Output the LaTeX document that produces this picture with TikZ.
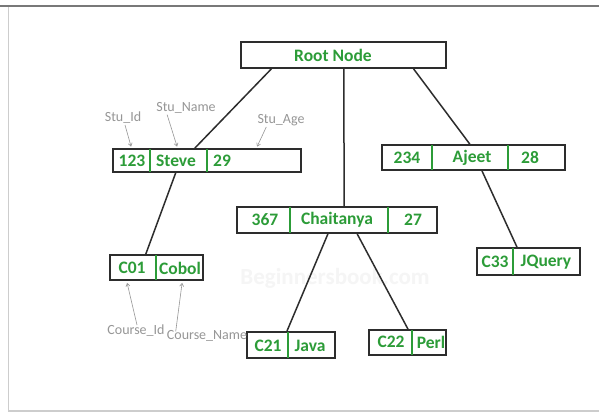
\documentclass[tikz,border=0pt]{standalone}
\usepackage{fontspec}
\setmainfont{Carlito}
\usetikzlibrary{calc,arrows.meta}

\definecolor{keygreen}{RGB}{44,156,56}
\definecolor{boxline}{RGB}{45,45,45}
\definecolor{notegray}{RGB}{150,150,150}
\definecolor{framedark}{RGB}{120,120,120}
\definecolor{framelight}{RGB}{205,205,205}

\tikzset{
  recbox/.style={draw=boxline, line width=1.8pt, fill=white, inner sep=0pt},
  field/.style={text=keygreen, inner sep=0pt, font=\bfseries\fontsize{17.5}{19}\selectfont},
  divider/.style={draw=keygreen, line width=1.5pt, shorten >=0.9pt, shorten <=0.9pt},
  branch/.style={draw=boxline, line width=1.5pt},
  note/.style={text=notegray, inner sep=1pt, font=\fontsize{14}{15}\selectfont},
  pointer/.style={draw=notegray, line width=0.6pt, -{Straight Barb[length=3pt,width=4pt]}},
  watermark/.style={text=black!4, inner sep=0pt, font=\bfseries\fontsize{23}{25}\selectfont}
}

\begin{document}
\begin{tikzpicture}[x=1pt, y=-1pt]
  \useasboundingbox (0,0) rectangle (599,412);
  \fill[white] (0,0) rectangle (599,412);

  % page frame
  \draw[framelight, line width=1.5pt] (8.5,6) -- (8.5,411) -- (599,411);
  \draw[framedark, line width=1.5pt] (0,6) -- (599,6);

  % faint site mark behind the tree
  \node[watermark] (mark) at (335,278) {Beginnersbook.com};

  % record boxes
  \node[recbox, minimum width=205pt, minimum height=26pt] (root)  at (343.5,55)  {};
  \node[recbox, minimum width=188pt, minimum height=23pt] (steve) at (207,160.5) {};
  \node[recbox, minimum width=183pt, minimum height=25pt] (ajeet) at (473.5,157.5) {};
  \node[recbox, minimum width=200pt, minimum height=26pt] (chai)  at (337,220)   {};
  \node[recbox, minimum width=93pt,  minimum height=25pt] (cobol) at (156.5,267.5) {};
  \node[recbox, minimum width=88pt,  minimum height=26pt] (java)  at (291,345)   {};
  \node[recbox, minimum width=77pt,  minimum height=25pt] (perl)  at (407.5,342.5) {};
  \node[recbox, minimum width=103pt, minimum height=27pt] (jquery) at (528.5,261.5) {};

  % field separators
  \draw[divider] ($(steve.north west)+(38,0)$) -- ($(steve.south west)+(38,0)$);
  \draw[divider] ($(steve.north west)+(95,0)$) -- ($(steve.south west)+(95,0)$);
  \draw[divider] ($(ajeet.north west)+(51,0)$) -- ($(ajeet.south west)+(51,0)$);
  \draw[divider] ($(ajeet.north west)+(127,0)$) -- ($(ajeet.south west)+(127,0)$);
  \draw[divider] ($(chai.north west)+(54,0)$) -- ($(chai.south west)+(54,0)$);
  \draw[divider] ($(chai.north west)+(152,0)$) -- ($(chai.south west)+(152,0)$);
  \draw[divider] ($(cobol.north west)+(47,0)$) -- ($(cobol.south west)+(47,0)$);
  \draw[divider] ($(java.north west)+(42,0)$) -- ($(java.south west)+(42,0)$);
  \draw[divider] ($(perl.north west)+(44,0)$) -- ($(perl.south west)+(44,0)$);
  \draw[divider] ($(jquery.north west)+(37,0)$) -- ($(jquery.south west)+(37,0)$);

  % field values
  \node[field] (rootlabel) at (333,55) {Root Node};
  \node[field] (steve-id)   at (132,161) {123};
  \node[field] (steve-name) at (176,161) {Steve};
  \node[field] (steve-age)  at (222,161) {29};
  \node[field] (ajeet-id)   at (407,158) {234};
  \node[field] (ajeet-name) at (472,158) {Ajeet};
  \node[field] (ajeet-age)  at (530,158) {28};
  \node[field] (chai-id)    at (265,220) {367};
  \node[field] (chai-name)  at (337,220) {Chaitanya};
  \node[field] (chai-age)   at (413,220) {27};
  \node[field] (cobol-id)   at (132,268) {C01};
  \node[field] (cobol-name) at (180,268) {Cobol};
  \node[field] (java-id)    at (268,346) {C21};
  \node[field] (java-name)  at (310,346) {Java};
  \node[field] (perl-id)    at (391,342) {C22};
  \node[field] (perl-name)  at (431,342) {Perl};
  \node[field] (jquery-id)  at (495,262) {C33};
  \node[field] (jquery-name) at (546,262) {JQuery};

  % tree branches
  \draw[branch] ($(root.south west)!0.151!(root.south east)$) -- ($(steve.north west)!0.436!(steve.north east)$);
  \draw[branch] ($(root.south west)!0.502!(root.south east)$) -- ($(chai.north west)!0.535!(chai.north east)$);
  \draw[branch] ($(root.south west)!0.839!(root.south east)$) -- ($(ajeet.north west)!0.48!(ajeet.north east)$);
  \draw[branch] ($(steve.south west)!0.335!(steve.south east)$) -- ($(cobol.north west)!0.387!(cobol.north east)$);
  \draw[branch] ($(chai.south west)!0.455!(chai.south east)$) -- ($(java.north west)!0.455!(java.north east)$);
  \draw[branch] ($(chai.south west)!0.6!(chai.south east)$) -- ($(perl.north west)!0.506!(perl.north east)$);
  \draw[branch] ($(ajeet.south west)!0.546!(ajeet.south east)$) -- ($(jquery.north west)!0.39!(jquery.north east)$);

  % column annotations
  \node[note] (stu-id)   at (123,118) {Stu\_Id};
  \node[note] (stu-name) at (186,108) {Stu\_Name};
  \node[note] (stu-age)  at (281,120) {Stu\_Age};
  \node[note] (course-id)   at (136,331) {Course\_Id};
  \node[note] (course-name) at (207,336) {Course\_Name};

  \draw[pointer] ($(stu-id.south)+(2,0)$) -- ($(steve.north west)+(19,-1.5)$);
  \draw[pointer] ($(stu-name.south west)+(12,0)$) -- ($(steve.north west)+(65,-1.5)$);
  \draw[pointer] ($(stu-age.south west)+(10,0)$) -- ($(steve.north west)+(145,-1.5)$);
  \draw[pointer] ($(course-id.north)+(1,1)$) -- ($(cobol.south west)+(18,2)$);
  \draw[pointer] ($(course-name.north west)+(10,2)$) -- ($(cobol.south west)+(73,2)$);
\end{tikzpicture}
\end{document}
